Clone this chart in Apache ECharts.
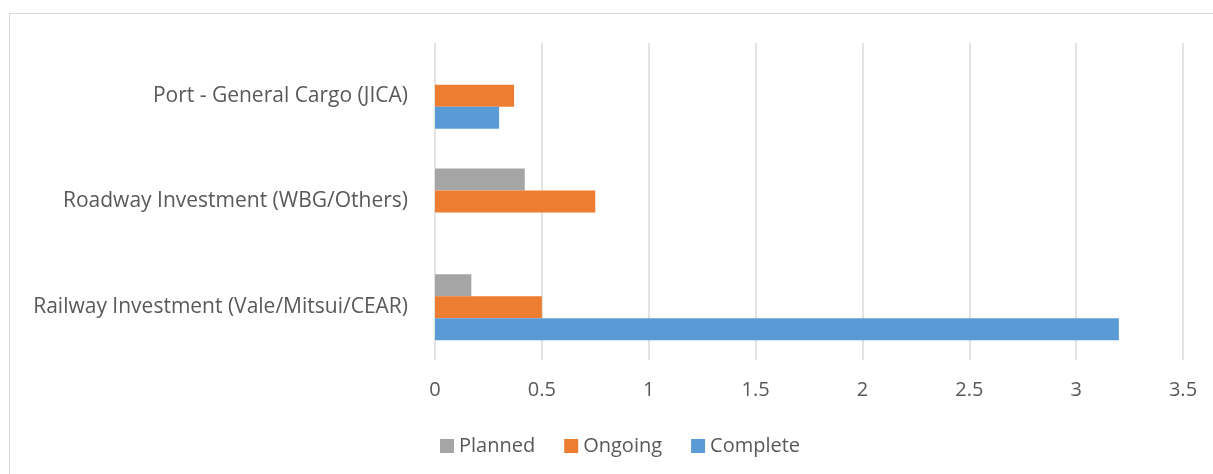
<!DOCTYPE html>
<html>
<head>
<meta charset="utf-8">
<script src="https://cdn.jsdelivr.net/npm/echarts@6/dist/echarts.min.js"></script>
<style>
  html, body { margin: 0; padding: 0; background: #fff; }
  #frame {
    position: absolute; left: 9px; top: 13px; right: 0; bottom: 0;
    border-left: 1.5px solid #d9d9d9; border-top: 1.5px solid #d9d9d9;
  }
  #chart { position: absolute; left: 0; top: 0; width: 1213px; height: 474px; }
</style>
</head>
<body>
<div id="frame"></div>
<div id="chart"></div>
<script>
// categories, bottom to top as drawn
const categories = [
    'Railway Investment (Vale/Mitsui/CEAR)',
    'Roadway Investment (WBG/Others)',
    'Port - General Cargo (JICA)'
];
const planned = [0.17, 0.42, null];
const ongoing = [0.5, 0.75, 0.37];
const complete = [3.2, null, 0.3];
const xTicks = {min: 0, max: 3.5, step: 0.5};

const font = '"Open Sans", "Noto Sans", sans-serif';
const textColor = '#595959';

let chart = echarts.init(document.getElementById('chart'));

chart.setOption({
    animation: false,
    grid: {
        left: 435,
        right: 30,
        top: 43,
        bottom: 114
    },
    legend: {
        data: ['Planned', 'Ongoing', 'Complete'],
        left: 435,
        top: 431,
        itemWidth: 14,
        itemHeight: 14,
        itemGap: 29,
        icon: 'rect',
        textStyle: {color: textColor, fontFamily: font, fontSize: 20}
    },
    xAxis: {
        type: 'value',
        min: xTicks.min,
        max: xTicks.max,
        interval: xTicks.step,
        axisLine: {show: false},
        axisTick: {show: false},
        splitLine: {lineStyle: {color: '#d9d9d9', width: 1.5}},
        axisLabel: {
            color: textColor, fontFamily: font, fontSize: 20, margin: 20
        }
    },
    yAxis: {
        type: 'category',
        data: categories,
        axisLine: {show: false},
        axisTick: {show: false},
        axisLabel: {
            color: textColor, fontFamily: font, fontSize: 21, margin: 27
        }
    },
    series: [
        {
            name: 'Planned',
            type: 'bar',
            data: planned,
            barGap: '0%',
            barCategoryGap: '37.5%',
            itemStyle: {color: '#a5a5a5'}
        },
        {
            name: 'Ongoing',
            type: 'bar',
            data: ongoing,
            itemStyle: {color: '#ed7d31'}
        },
        {
            name: 'Complete',
            type: 'bar',
            data: complete,
            itemStyle: {color: '#5b9bd5'}
        }
    ]
});
</script>
</body>
</html>
